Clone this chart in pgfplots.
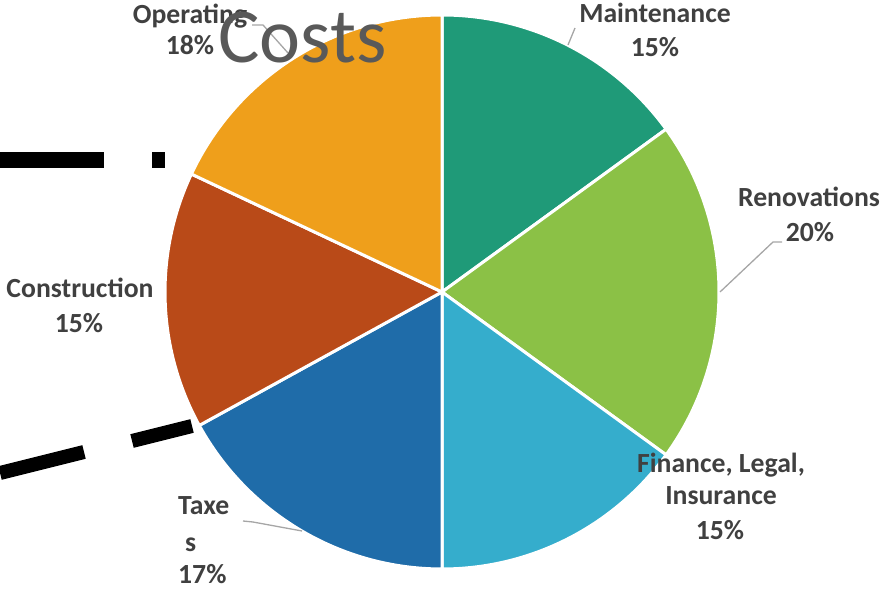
\documentclass[border=0pt]{standalone}
\usepackage{pgfplots}
\pgfplotsset{compat=1.18}
\usepackage{fontspec}
\setmainfont{Carlito}
\definecolor{cMaint}{HTML}{1F9A78}
\definecolor{cReno}{HTML}{8BC146}
\definecolor{cFin}{HTML}{35ADCC}
\definecolor{cTax}{HTML}{1F6CA9}
\definecolor{cCons}{HTML}{B94A18}
\definecolor{cOper}{HTML}{EF9F1B}
\definecolor{lbl}{HTML}{404040}
\definecolor{ttl}{HTML}{595959}
\definecolor{lead}{HTML}{A6A6A6}
\begin{document}
\begin{tikzpicture}
\useasboundingbox (0,0) rectangle (885bp,591bp);
\begin{axis}[
  at={(0,0)}, anchor=south west,
  width=885bp, height=591bp, scale only axis,
  xmin=0, xmax=885, ymin=0, ymax=591,
  hide axis, clip=false,
]
% pie slices: values 15,20,15,17,15,18 (percent), clockwise from top
\fill[cMaint, draw=white, line width=3bp] (axis cs:442,299) -- ++(90:277bp) arc[start angle=90, end angle={90-360*0.15}, radius=277bp] -- cycle;
\fill[cReno, draw=white, line width=3bp] (axis cs:442,299) -- ++({90-360*0.15}:277bp) arc[start angle={90-360*0.15}, end angle={90-360*0.35}, radius=277bp] -- cycle;
\fill[cFin, draw=white, line width=3bp] (axis cs:442,299) -- ++({90-360*0.35}:277bp) arc[start angle={90-360*0.35}, end angle={90-360*0.50}, radius=277bp] -- cycle;
\fill[cTax, draw=white, line width=3bp] (axis cs:442,299) -- ++({90-360*0.50}:277bp) arc[start angle={90-360*0.50}, end angle={90-360*0.67}, radius=277bp] -- cycle;
\fill[cCons, draw=white, line width=3bp] (axis cs:442,299) -- ++({90-360*0.67}:277bp) arc[start angle={90-360*0.67}, end angle={90-360*0.82}, radius=277bp] -- cycle;
\fill[cOper, draw=white, line width=3bp] (axis cs:442,299) -- ++({90-360*0.82}:277bp) arc[start angle={90-360*0.82}, end angle={90-360*1.00}, radius=277bp] -- cycle;

% black dashes
\addplot[black, line width=16bp, line cap=butt] coordinates {(0,431) (104,431)};
\addplot[black, line width=16bp, line cap=butt] coordinates {(152,431) (165,431)};
\addplot[black, line width=14bp, line cap=butt] coordinates {(0,118) (84,139)};
\addplot[black, line width=14bp, line cap=butt] coordinates {(132,150) (192,165)};

% leader lines
\addplot[lead, line width=1.3bp] coordinates {(252,566) (263,566) (288,538)};
\addplot[lead, line width=1.3bp] coordinates {(575,563) (568,546)};
\addplot[lead, line width=1.3bp] coordinates {(782,349) (773,349) (720,299)};
\addplot[lead, line width=1.3bp] coordinates {(243,70) (253,69) (302,60)};

% labels
\tikzset{lab/.style={font=\fontsize{27.8}{33}\selectfont\bfseries, text=lbl, inner sep=0pt}}
\node[lab, anchor=base] at (axis cs:190,567) {Operating};
\node[lab, anchor=base] at (axis cs:190,536) {18\%};
\node[lab, anchor=base] at (axis cs:655,568) {Maintenance};
\node[lab, anchor=base] at (axis cs:655,534) {15\%};
\node[lab, anchor=base] at (axis cs:809,384) {Renovations};
\node[lab, anchor=base] at (axis cs:810,349) {20\%};
\node[lab, anchor=base] at (axis cs:721,118) {Finance, Legal,};
\node[lab, anchor=base] at (axis cs:721,86) {Insurance};
\node[lab, anchor=base] at (axis cs:720,51) {15\%};
\node[lab, anchor=base west] at (axis cs:178,76) {Taxe};
\node[lab, anchor=base west] at (axis cs:185,39) {s};
\node[lab, anchor=base west] at (axis cs:178,8) {17\%};
\node[lab, anchor=base] at (axis cs:80,293) {Construction};
\node[lab, anchor=base] at (axis cs:79,258) {15\%};

% title
\node[anchor=base west, inner sep=0pt, text=ttl, font=\fontsize{78}{90}\selectfont] at (axis cs:218,528) {Costs};
\end{axis}
\end{tikzpicture}
\end{document}
